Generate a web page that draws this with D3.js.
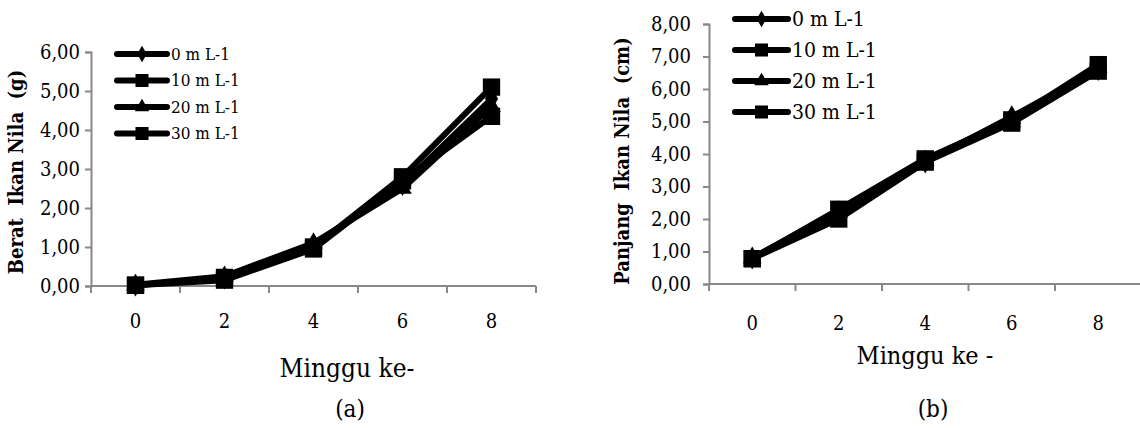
<!DOCTYPE html>
<html><head><meta charset="utf-8">
<script src="https://cdn.jsdelivr.net/npm/d3@7"></script>
<style>body{margin:0;background:#fff}svg text{font-family:"DejaVu Serif Condensed","DejaVu Serif",serif;font-stretch:condensed;white-space:pre}</style>
</head><body><svg id="c" width="1140" height="428"></svg>
<script>
const weeks = [0, 2, 4, 6, 8];
const seriesNames = ["0 m L-1", "10 m L-1", "20 m L-1", "30 m L-1"];
const beratValues = [
  [0.02, 0.20, 1.05, 2.60, 4.80],
  [0.02, 0.22, 1.00, 2.80, 5.10],
  [0.03, 0.25, 1.10, 2.50, 4.60],
  [0.02, 0.15, 0.95, 2.70, 4.35]
];
const panjangValues = [
  [0.80, 2.20, 3.75, 5.15, 6.60],
  [0.78, 2.30, 3.85, 5.05, 6.75],
  [0.80, 2.25, 3.80, 5.10, 6.65],
  [0.78, 2.00, 3.75, 4.95, 6.55]
];
const beratTicks = [0, 1, 2, 3, 4, 5, 6];
const panjangTicks = [0, 1, 2, 3, 4, 5, 6, 7, 8];
const symbols = [d3.symbolDiamond, d3.symbolSquare, d3.symbolTriangle, d3.symbolSquare];
const plotSizes = [150, 300, 150, 300];
const legendSizes = [80, 170, 90, 170];
const fmt = v => v.toFixed(2).replace(".", ",");

const svg = d3.select("#c");

function panel(o) {
  const g = svg.append("g");
  const x = d3.scaleBand().domain(weeks).range([o.x0, o.x1]).padding(0);
  const y = d3.scaleLinear().domain([0, o.ymax]).range([o.yb, o.yt]);
  const axisColor = "#888";
  const ya = g.append("g").attr("transform", `translate(${o.x0},0)`)
    .call(d3.axisLeft(y).tickValues(o.ticks).tickFormat(fmt).tickSize(6).tickPadding(o.tp));
  ya.select(".domain").attr("stroke", axisColor).attr("stroke-width", 2);
  ya.selectAll(".tick line").attr("stroke", axisColor).attr("stroke-width", 2);
  ya.selectAll(".tick text").attr("font-size", o.fs).attr("fill", "#000");
  const xa = g.append("g").attr("transform", `translate(0,${o.yb})`)
    .call(d3.axisBottom(x).tickSize(0).tickPadding(o.xtp));
  xa.select(".domain").remove();
  xa.selectAll(".tick text").attr("font-size", o.fs).attr("fill", "#000");
  g.append("line").attr("x1", o.x0).attr("x2", o.xEnd).attr("y1", o.yb).attr("y2", o.yb)
    .attr("stroke", axisColor).attr("stroke-width", 2);
  const edges = weeks.map(w => x(w)).concat([o.x1]);
  g.selectAll(".xt").data(edges).enter().append("line")
    .attr("x1", d => d).attr("x2", d => d).attr("y1", o.yb).attr("y2", o.yb + 7)
    .attr("stroke", axisColor).attr("stroke-width", 2);
  const line = d3.line().x((d, i) => x(weeks[i]) + x.bandwidth() / 2).y(d => y(d));
  o.values.forEach((vals, s) => {
    g.append("path").datum(vals).attr("d", line).attr("fill", "none")
      .attr("stroke", "#000").attr("stroke-width", 6).attr("stroke-linejoin", "round");
  });
  o.values.forEach((vals, s) => {
    g.selectAll(".m" + s).data(vals).enter().append("path")
      .attr("transform", (d, i) => `translate(${x(weeks[i]) + x.bandwidth() / 2},${y(d)})`)
      .attr("d", d3.symbol().type(symbols[s]).size(plotSizes[s])).attr("fill", "#000");
  });
  seriesNames.forEach((n, s) => {
    const ly = o.ly0 + s * o.lstep;
    g.append("line").attr("x1", o.lx).attr("x2", o.lx + o.lw).attr("y1", ly).attr("y2", ly)
      .attr("stroke", "#000").attr("stroke-width", 6).attr("stroke-linecap", "round");
    g.append("path").attr("transform", `translate(${o.lx + o.lw / 2},${ly})`)
      .attr("d", d3.symbol().type(symbols[s]).size(legendSizes[s])).attr("fill", "#000");
    g.append("text").attr("x", o.lx + o.lw + 4).attr("y", ly).attr("dy", "0.35em")
      .attr("font-size", o.lfs).text(n);
  });
  g.append("text").attr("transform", `translate(${o.ytx},${o.yty}) rotate(-90)`)
    .attr("text-anchor", "middle").attr("font-weight", "bold").attr("font-size", o.ytfs).text(o.ytitle);
  g.append("text").attr("x", o.xtx).attr("y", o.xty).attr("text-anchor", "middle")
    .attr("font-size", o.xtfs).text(o.xtitle);
  g.append("text").attr("x", o.capx).attr("y", 417).attr("text-anchor", "middle")
    .attr("font-size", 24).text(o.cap);
}

panel({x0: 91, x1: 536, xEnd: 536, ymax: 6, yb: 286, yt: 52, ticks: beratTicks, values: beratValues,
  fs: 20, tp: 5, xtp: 28, lx: 117, lw: 50, ly0: 54, lstep: 26.5, lfs: 17,
  ytitle: "Berat  Ikan Nila  (g)", ytx: 23, yty: 172, ytfs: 20,
  xtitle: "Minggu ke-", xtx: 347, xty: 377, xtfs: 26, cap: "(a)", capx: 350});

panel({x0: 709, x1: 1141.5, xEnd: 1140, ymax: 8, yb: 284, yt: 24, ticks: panjangTicks, values: panjangValues,
  fs: 20, tp: 12, xtp: 32, lx: 735, lw: 53, ly0: 19, lstep: 31, lfs: 21,
  ytitle: "Panjang  Ikan Nila  (cm)", ytx: 629, yty: 161, ytfs: 20,
  xtitle: "Minggu ke -", xtx: 925, xty: 364, xtfs: 25, cap: "(b)", capx: 933});
</script></body></html>
